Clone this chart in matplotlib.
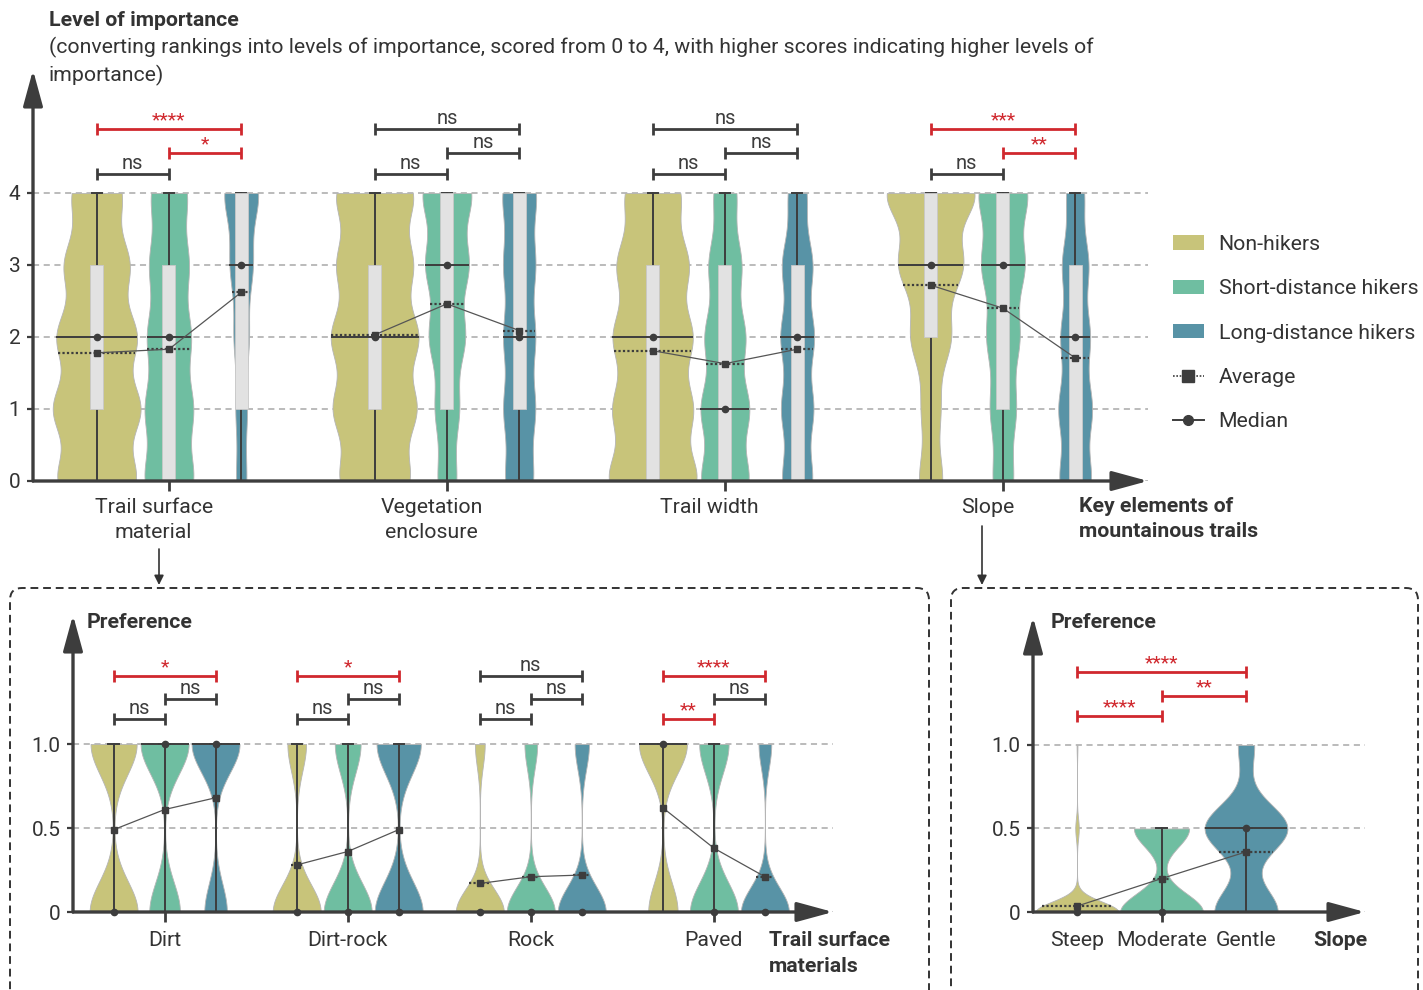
import numpy as np
import matplotlib.pyplot as plt
from matplotlib.patches import Patch, Rectangle, FancyBboxPatch, FancyArrowPatch
from matplotlib.lines import Line2D

plt.rcParams['font.family'] = ['Roboto', 'DejaVu Sans']
plt.rcParams['text.color'] = '#333333'

groups = ['Non-hikers', 'Short-distance hikers', 'Long-distance hikers']
colors = ['#c8c47a', '#6fbea1', '#5893a6']

# --- top: importance of key elements (scores 0..4) ---
elements = ['Trail surface\nmaterial', 'Vegetation\nenclosure', 'Trail width', 'Slope']
scores = [0, 1, 2, 3, 4]
# share of respondents (%) at each score, rows = groups
share_surface = [[22, 24, 22, 18, 14], [23, 22, 20, 18, 17], [11, 12, 16, 24, 37]]
share_vegetation = [[18, 21, 22, 19, 20], [11, 14, 21, 25, 29], [18, 20, 20, 20, 22]]
share_width = [[24, 21, 21, 19, 15], [25, 25, 21, 17, 12], [21, 22, 23, 21, 13]]
share_slope = [[10, 8, 17, 27, 38], [12, 15, 19, 25, 29], [23, 24, 21, 19, 13]]
imp_q1 = [[1, 0, 1], [1, 1, 1], [0, 0, 0], [2, 1, 0]]
imp_q3 = [[3, 3, 4], [3, 4, 4], [3, 3, 3], [4, 4, 3]]
imp_median = [[2, 2, 3], [2, 3, 2], [2, 1, 2], [3, 3, 2]]
imp_mean = [[1.78, 1.83, 2.62], [2.03, 2.46, 2.09], [1.81, 1.63, 1.83], [2.72, 2.40, 1.71]]
# pairs (non,short), (short,long), (non,long)
imp_sig = [['ns', '*', '****'], ['ns', 'ns', 'ns'], ['ns', 'ns', 'ns'], ['ns', '**', '***']]

# --- bottom left: preference for trail surface materials ---
materials = ['Dirt', 'Dirt-rock', 'Rock', 'Paved']
pref_levels = [0, 0.5, 1]
share_dirt = [[51, 0, 49], [39, 0, 61], [32, 0, 68]]
share_dirtrock = [[72, 0, 28], [65, 0, 35], [52, 0, 48]]
share_rock = [[83, 0, 17], [79, 0, 21], [77, 0, 23]]
share_paved = [[38, 0, 62], [62, 0, 38], [79, 0, 21]]
mat_q3 = [[1, 1, 1], [1, 1, 1], [0, 0, 0], [1, 1, 0]]
mat_median = [[0, 1, 1], [0, 0, 0], [0, 0, 0], [1, 0, 0]]
mat_mean = [[0.49, 0.61, 0.68], [0.28, 0.36, 0.49], [0.17, 0.21, 0.22], [0.62, 0.38, 0.21]]
mat_sig = [['ns', 'ns', '*'], ['ns', 'ns', '*'], ['ns', 'ns', 'ns'], ['**', 'ns', '****']]

# --- bottom right: preference for slope ---
slopes = ['Steep', 'Moderate', 'Gentle']
share_slopes = [[95, 4, 1], [60, 40, 0], [39, 51, 10]]
slope_q3 = [0, 0.5, 0.5]
slope_median = [0, 0, 0.5]
slope_mean = [0.035, 0.20, 0.36]
slope_sig = ['****', '**', '****']

DARK = '#3d3d3d'
RED = '#d0282e'
FS = 15.3
W, H = 1423, 990
fig = plt.figure(figsize=(W / 100, H / 100), dpi=100)


def px_axes(left, top, right, bottom):
    return fig.add_axes([left / W, 1 - bottom / H, (right - left) / W, (bottom - top) / H])


def setup(ax, yticks, ylabels):
    for s in ax.spines.values():
        s.set_visible(False)
    kw = dict(arrowstyle='-|>,head_length=2.2,head_width=0.6', lw=2.4, color=DARK,
              mutation_scale=10, shrinkA=0, shrinkB=0)
    ax.annotate('', xy=(0, 1), xytext=(0, 0), xycoords='axes fraction', arrowprops=kw,
                zorder=10, annotation_clip=False)
    ax.annotate('', xy=(1, 0), xytext=(0, 0), xycoords='axes fraction', arrowprops=kw,
                zorder=10, annotation_clip=False)
    ax.set_yticks(yticks, ylabels)
    ax.grid(axis='y', ls=(0, (4, 3)), color='#a8a8a8', lw=1.1)
    ax.set_axisbelow(True)
    ax.tick_params(axis='y', length=4, width=1.6, color=DARK, pad=5, labelsize=15, labelcolor='#333333')
    ax.tick_params(axis='x', length=7, width=2, color=DARK, pad=7, labelsize=FS, labelcolor='#333333')


def violin(ax, x, levels, share, half, factor, color):
    lv = np.asarray(levels, float)
    p = np.asarray(share, float)
    p = p / p.sum()
    mu = (p * lv).sum()
    bw = factor * np.sqrt((p * (lv - mu) ** 2).sum())
    yy = np.linspace(lv[p > 0].min(), lv[p > 0].max(), 400)
    dens = (p[:, None] * np.exp(-0.5 * ((yy[None, :] - lv[:, None]) / bw) ** 2)).sum(0)
    w = dens / dens.max() * half
    ax.fill_betweenx(yy, x - w, x + w, facecolor=color, edgecolor='#b5b5b5', lw=0.6, zorder=2)
    return lambda y: float(np.interp(y, yy, w))


def centre_stats(ax, xs, wfs, med, mean):
    for x, wf, m, a in zip(xs, wfs, med, mean):
        hw = wf(m)
        ax.plot([x - hw, x + hw], [m, m], color=DARK, lw=1.4, zorder=4, solid_capstyle='butt')
        hw = wf(a)
        ax.plot([x - hw, x + hw], [a, a], color=DARK, lw=1.6, ls=(0, (1, 1)), zorder=4)
    ax.plot(xs, mean, color='#555555', lw=0.9, zorder=5)
    ax.plot(xs, med, 'o', color=DARK, ms=4.5, zorder=6, clip_on=False)
    ax.plot(xs, mean, 's', color=DARK, ms=5, zorder=6)


def brackets(ax, xs, levels, labels):
    for (i, j), y, lab in zip([(0, 1), (1, 2), (0, 2)], levels, labels):
        c = DARK if lab == 'ns' else RED
        ax.plot([xs[i], xs[j]], [y, y], color=c, lw=2, marker='|', ms=8, mew=2,
                solid_capstyle='butt', zorder=6, clip_on=False)
        if lab == 'ns':
            off, fs = 3.6, 14.5
        else:
            off, fs = 2.8, 14
        ax.annotate(lab, ((xs[i] + xs[j]) / 2, y), xytext=(0, off), textcoords='offset points',
                    ha='center', va='baseline', color=c, fontsize=fs, annotation_clip=False)


# ---------------- top panel ----------------
ax1 = px_axes(33, 70, 1148, 481)
ax1.set_xlim(-0.489, 3.522)
ax1.set_ylim(0, 5.708)
setup(ax1, scores, [str(s) for s in scores])
ax1.set_xticks(range(len(elements)), [''] * len(elements))
top_half = [0.158, 0.088, 0.061]
for c, shares in enumerate([share_surface, share_vegetation, share_width, share_slope]):
    xs = [c - 0.26, c, c + 0.26]
    wfs = []
    for k in range(3):
        x = xs[k]
        wfs.append(violin(ax1, x, scores, shares[k], top_half[k], 0.3, colors[k]))
        ax1.plot([x, x], [scores[0], scores[-1]], color=DARK, lw=1.4, zorder=3)
        for yc in (scores[0], scores[-1]):
            ax1.plot([x - 0.018, x + 0.018], [yc, yc], color=DARK, lw=1.4, zorder=3)
        ax1.add_patch(Rectangle((x - 0.0234, imp_q1[c][k]), 0.0468, imp_q3[c][k] - imp_q1[c][k],
                                facecolor='#e2e2e2', edgecolor='#c8c8c8', lw=0.6, zorder=3.5))
    centre_stats(ax1, xs, wfs, imp_median[c], imp_mean[c])
    brackets(ax1, xs, [4.27, 4.55, 4.89], imp_sig[c])
    ax1.annotate(elements[c], (c, 0), xycoords=('data', 'axes fraction'), xytext=(-11, -12),
                 textcoords='offset points', ha='center', va='top', fontsize=FS, linespacing=1.42)

handles = [Patch(facecolor=col) for col in colors]
handles += [Line2D([], [], color=DARK, ls=(0, (1, 1)), lw=1.2, marker='s', ms=8),
            Line2D([], [], color=DARK, ls='-', lw=1.4, marker='o', ms=7)]
ax1.legend(handles, groups + ['Average', 'Median'], loc='upper left',
           bbox_to_anchor=(1173 / W, 1 - 235 / H), bbox_transform=fig.transFigure,
           frameon=False, fontsize=FS, handlelength=1.45, handleheight=0.65,
           handletextpad=0.7, labelspacing=1.19, borderpad=0, borderaxespad=0)

# ---------------- bottom left panel ----------------
ax2 = px_axes(73, 615, 833, 912)
ax2.set_xlim((73 - 164.6) / 183.1, (833 - 164.6) / 183.1)
ax2.set_ylim(0, 1.768)
setup(ax2, [0, 0.5, 1], ['0', '0.5', '1.0'])
ax2.set_xticks(range(len(materials)), materials)
for c, shares in enumerate([share_dirt, share_dirtrock, share_rock, share_paved]):
    xs = [c - 0.2785, c, c + 0.2785]
    wfs = []
    for k in range(3):
        x = xs[k]
        wfs.append(violin(ax2, x, pref_levels, shares[k], 0.131, 0.36, colors[k]))
        if mat_q3[c][k] > 0:
            ax2.plot([x, x], [0, mat_q3[c][k]], color=DARK, lw=1.4, zorder=3)
            ax2.plot([x - 0.028, x + 0.028], [mat_q3[c][k]] * 2, color=DARK, lw=1.4, zorder=3)
    centre_stats(ax2, xs, wfs, mat_median[c], mat_mean[c])
    brackets(ax2, xs, [1.147, 1.265, 1.404], mat_sig[c])

# ---------------- bottom right panel ----------------
ax3 = px_axes(1033, 617, 1365, 912)
ax3.set_xlim(-0.521, 3.408)
ax3.set_ylim(0, 1.766)
setup(ax3, [0, 0.5, 1], ['0', '0.5', '1.0'])
ax3.set_xticks([1], [slopes[1]])
ax3.set_xticks([0, 2], [slopes[0], slopes[2]], minor=True)
ax3.tick_params(axis='x', which='minor', length=0, pad=14, labelsize=FS, labelcolor='#333333')
xs = [0, 1, 2]
wfs = []
for k in range(3):
    wfs.append(violin(ax3, xs[k], pref_levels, share_slopes[k], 0.49, 0.45, colors[k]))
    if slope_q3[k] > 0:
        ax3.plot([xs[k], xs[k]], [0, slope_q3[k]], color=DARK, lw=1.4, zorder=3)
        ax3.plot([xs[k] - 0.07, xs[k] + 0.07], [slope_q3[k]] * 2, color=DARK, lw=1.4, zorder=3)
centre_stats(ax3, xs, wfs, slope_median, slope_mean)
brackets(ax3, xs, [1.171, 1.291, 1.434], slope_sig)


# ---------------- texts, frames, arrows ----------------
def ftext(x, y, s, **kw):
    fig.text(x / W, 1 - y / H, s, **kw)


ftext(49, 21, 'Level of importance', fontsize=FS, fontweight='bold', va='center')
ftext(49, 37, '(converting rankings into levels of importance, scored from 0 to 4, with higher '
      'scores indicating higher levels of\nimportance)', fontsize=FS, va='top', linespacing=1.4)
ftext(1079, 497, 'Key elements of\nmountainous trails', fontsize=FS, fontweight='bold',
      va='top', linespacing=1.42)
ftext(87, 622, 'Preference', fontsize=FS, fontweight='bold', va='center')
ftext(1051, 622, 'Preference', fontsize=FS, fontweight='bold', va='center')
ftext(769, 931, 'Trail surface\nmaterials', fontsize=FS, fontweight='bold', va='top',
      linespacing=1.45)
ftext(1313, 941, 'Slope', fontsize=FS, fontweight='bold', va='center')

for left, right in [(10, 929), (951, 1418)]:
    fig.add_artist(FancyBboxPatch((left / 100, -0.3), (right - left) / 100, (H - 588) / 100 + 0.3,
                                  boxstyle='round,pad=0,rounding_size=0.12',
                                  transform=fig.dpi_scale_trans, fill=False, ec='#333333',
                                  lw=1.4, ls=(0, (4, 2.5))))
for x, y0 in [(159, 549), (982, 526)]:
    fig.add_artist(FancyArrowPatch((x / 100, (H - y0) / 100), (x / 100, (H - 585) / 100),
                                   transform=fig.dpi_scale_trans, arrowstyle='-|>',
                                   mutation_scale=14, lw=1.2, color='#333333', shrinkA=0, shrinkB=0))

fig.savefig('out.png', dpi=100)
